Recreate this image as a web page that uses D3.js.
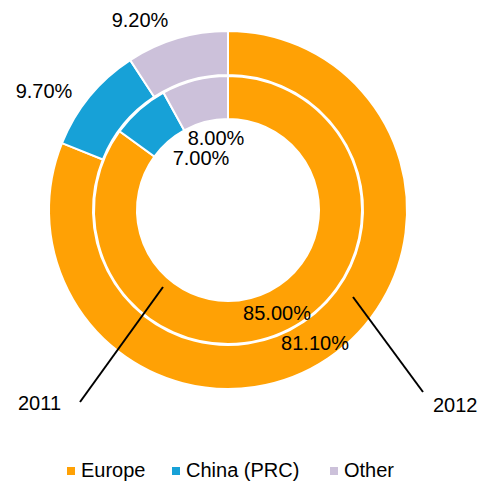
<!DOCTYPE html>
<html><head><meta charset="utf-8">
<script src="https://cdn.jsdelivr.net/npm/d3@7"></script>
<style>body{margin:0;background:#fff}svg{display:block;font-family:"Liberation Sans",Arial,sans-serif}</style>
</head><body><svg id="c" width="489" height="481"></svg>
<script>
const categories = ["Europe", "China (PRC)", "Other"];
const values2011 = [85.0, 7.0, 8.0];
const values2012 = [81.1, 9.7, 9.2];
const labels2011 = ["85.00%", "7.00%", "8.00%"];
const labels2012 = ["81.10%", "9.70%", "9.20%"];
const colors = ["#FFA105", "#17A1D7", "#CCC1DA"];

const svg = d3.select("#c");
const cx = 228, cy = 210;
const g = svg.append("g").attr("transform", `translate(${cx},${cy})`);
const pie = d3.pie().sort(null).value(d => d);
const color = d3.scaleOrdinal().domain(categories).range(colors);

const rings = [
  {vals: values2012, labels: labels2012, inner: 135, outer: 179,
   labelPos: [[87, 140], [-184, -112], [-88, -183]]},
  {vals: values2011, labels: labels2011, inner: 91, outer: 134,
   labelPos: [[49, 110], [-27, -45], [-12, -65]]}
];

rings.forEach(r => {
  const arc = d3.arc().innerRadius(r.inner).outerRadius(r.outer);
  g.selectAll(null).data(pie(r.vals)).enter().append("path")
    .attr("d", arc)
    .attr("fill", (d, i) => color(categories[i]))
    .attr("stroke", "#fff").attr("stroke-width", 2);
});
rings.forEach(r => {
  g.selectAll(null).data(r.labels).enter().append("text")
    .attr("x", (d, i) => r.labelPos[i][0])
    .attr("y", (d, i) => r.labelPos[i][1])
    .attr("text-anchor", "middle")
    .attr("font-size", 20).attr("fill", "#000")
    .text(d => d);
});

// series name callouts
const callouts = [
  {name: "2011", from: [-65, 77], to: [-148, 192], tx: -210, ty: 200},
  {name: "2012", from: [125, 87], to: [195, 182], tx: 205, ty: 202}
];
callouts.forEach(c => {
  g.append("line").attr("x1", c.from[0]).attr("y1", c.from[1])
    .attr("x2", c.to[0]).attr("y2", c.to[1])
    .attr("stroke", "#000").attr("stroke-width", 2);
  g.append("text").attr("x", c.tx).attr("y", c.ty).attr("font-size", 20)
    .text(c.name);
});

// legend
const legendX = [67, 172, 330];
const lg = svg.append("g");
categories.forEach((c, i) => {
  lg.append("rect").attr("x", legendX[i]).attr("y", 467).attr("width", 8).attr("height", 8)
    .attr("fill", color(c));
  lg.append("text").attr("x", legendX[i] + 14).attr("y", 477).attr("font-size", 20).text(c);
});
</script></body></html>
